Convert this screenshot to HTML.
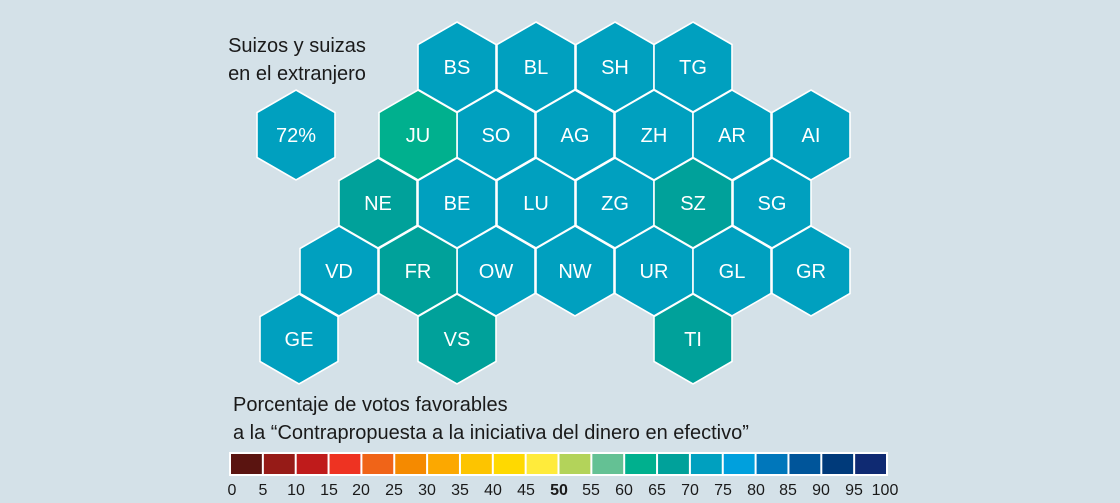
<!DOCTYPE html>
<html><head><meta charset="utf-8"><style>
html,body{margin:0;padding:0;background:#d4e1e8;}
svg text{font-family:"Liberation Sans Narrow","Liberation Sans",sans-serif;}
</style></head><body>
<svg width="1120" height="498" viewBox="0 0 1120 498" xmlns="http://www.w3.org/2000/svg">
<rect width="1120" height="498" fill="#d4e1e8"/>
<defs><polygon id="h" points="0,-45 39,-22.5 39,22.5 0,45 -39,22.5 -39,-22.5" stroke="#fff" stroke-width="1.6"/></defs>
<g fill="#00a0bf">
<use href="#h" x="457" y="67"/><use href="#h" x="536" y="67"/><use href="#h" x="615" y="67"/><use href="#h" x="693" y="67"/>
<use href="#h" x="296" y="135"/><use href="#h" x="496" y="135"/><use href="#h" x="575" y="135"/><use href="#h" x="654" y="135"/><use href="#h" x="732" y="135"/><use href="#h" x="811" y="135"/>
<use href="#h" x="457" y="203"/><use href="#h" x="536" y="203"/><use href="#h" x="615" y="203"/><use href="#h" x="772" y="203"/>
<use href="#h" x="339" y="271"/><use href="#h" x="496" y="271"/><use href="#h" x="575" y="271"/><use href="#h" x="654" y="271"/><use href="#h" x="732" y="271"/><use href="#h" x="811" y="271"/>
<use href="#h" x="299" y="339"/>
</g>
<use href="#h" x="418" y="135" fill="#00b08e"/>
<g fill="#00a19a">
<use href="#h" x="378" y="203"/><use href="#h" x="693" y="203"/><use href="#h" x="418" y="271"/><use href="#h" x="457" y="339"/><use href="#h" x="693" y="339"/>
</g>
<g font-size="20" fill="#fff" text-anchor="middle">
<text x="457" y="74">BS</text><text x="536" y="74">BL</text><text x="615" y="74">SH</text><text x="693" y="74">TG</text>
<text x="296" y="142">72%</text><text x="418" y="142">JU</text><text x="496" y="142">SO</text><text x="575" y="142">AG</text><text x="654" y="142">ZH</text><text x="732" y="142">AR</text><text x="811" y="142">AI</text>
<text x="378" y="210">NE</text><text x="457" y="210">BE</text><text x="536" y="210">LU</text><text x="615" y="210">ZG</text><text x="693" y="210">SZ</text><text x="772" y="210">SG</text>
<text x="339" y="278">VD</text><text x="418" y="278">FR</text><text x="496" y="278">OW</text><text x="575" y="278">NW</text><text x="654" y="278">UR</text><text x="732" y="278">GL</text><text x="811" y="278">GR</text>
<text x="299" y="346">GE</text><text x="457" y="346">VS</text><text x="693" y="346">TI</text>
</g>
<g font-size="20" fill="#1a1a1a" text-anchor="middle">
<text x="297" y="52">Suizos y suizas</text>
<text x="297" y="80">en el extranjero</text>
</g>
<g font-size="20" fill="#1a1a1a">
<text x="233" y="411">Porcentaje de votos favorables</text>
<text x="233" y="439">a la “Contrapropuesta a la iniciativa del dinero en efectivo”</text>
</g>
<rect x="229" y="452" width="659" height="24" fill="#fff"/>
<g>
<rect x="231" y="454" width="30.85" height="20" fill="#5a1410"/>
<rect x="263.85" y="454" width="30.85" height="20" fill="#961b17"/>
<rect x="296.7" y="454" width="30.85" height="20" fill="#bf1b1b"/>
<rect x="329.55" y="454" width="30.85" height="20" fill="#ee3322"/>
<rect x="362.4" y="454" width="30.85" height="20" fill="#f06418"/>
<rect x="395.25" y="454" width="30.85" height="20" fill="#f58a00"/>
<rect x="428.1" y="454" width="30.85" height="20" fill="#fca800"/>
<rect x="460.95" y="454" width="30.85" height="20" fill="#fdc400"/>
<rect x="493.8" y="454" width="30.85" height="20" fill="#ffd900"/>
<rect x="526.65" y="454" width="30.85" height="20" fill="#ffeb3b"/>
<rect x="559.5" y="454" width="30.85" height="20" fill="#b3d35a"/>
<rect x="592.35" y="454" width="30.85" height="20" fill="#64c194"/>
<rect x="625.2" y="454" width="30.85" height="20" fill="#00b08e"/>
<rect x="658.05" y="454" width="30.85" height="20" fill="#00a19a"/>
<rect x="690.9" y="454" width="30.85" height="20" fill="#00a0bf"/>
<rect x="723.75" y="454" width="30.85" height="20" fill="#00a0dd"/>
<rect x="756.6" y="454" width="30.85" height="20" fill="#0077bb"/>
<rect x="789.45" y="454" width="30.85" height="20" fill="#00559a"/>
<rect x="822.3" y="454" width="30.85" height="20" fill="#003a7a"/>
<rect x="855.15" y="454" width="30.85" height="20" fill="#0f2a72"/>
</g>
<g font-size="16" fill="#1a1a1a" text-anchor="middle">
<text x="232" y="495">0</text><text x="263" y="495">5</text><text x="296" y="495">10</text><text x="329" y="495">15</text><text x="361" y="495">20</text><text x="394" y="495">25</text><text x="427" y="495">30</text><text x="460" y="495">35</text><text x="493" y="495">40</text><text x="526" y="495">45</text><text x="559" y="495" font-weight="bold">50</text><text x="591" y="495">55</text><text x="624" y="495">60</text><text x="657" y="495">65</text><text x="690" y="495">70</text><text x="723" y="495">75</text><text x="756" y="495">80</text><text x="788" y="495">85</text><text x="821" y="495">90</text><text x="854" y="495">95</text><text x="885" y="495">100</text>
</g>
</svg>
</body></html>
